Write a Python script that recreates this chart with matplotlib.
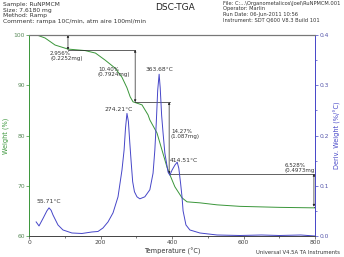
import matplotlib
matplotlib.use("Agg")
import matplotlib.pyplot as plt
import numpy as np

# ---- data ----
w_temp = [22, 45, 73, 109, 157, 186, 213, 241, 260, 274, 283, 291, 316, 333, 338,
          358, 372, 386, 394, 408, 428, 442, 478, 526, 590, 700, 800]
weight = [100, 99.4, 98.0, 97.2, 96.9, 96.4, 95.0, 93.4, 91.6, 89.5, 87.7, 86.7, 86.1,
          84.1, 83.1, 80.5, 77.1, 73.7, 72.2, 69.8, 67.6, 66.8, 66.6, 66.2, 65.9, 65.7, 65.6]

d_temp = [20, 28, 40, 50, 56, 62, 67, 81, 95, 120, 148, 176, 193, 207, 221, 235, 249, 260,
          266, 270, 274, 278, 282, 286, 290, 295, 302, 310, 324, 338, 347, 352, 356, 360,
          364, 367, 371, 375, 380, 389, 394, 400, 408, 414.5, 419, 424, 428, 431, 439,
          450, 478, 526, 590, 650, 700, 760, 800]
deriv = [0.028, 0.020, 0.036, 0.050, 0.056, 0.051, 0.042, 0.022, 0.012, 0.006, 0.005,
         0.008, 0.009, 0.016, 0.028, 0.046, 0.078, 0.131, 0.171, 0.215, 0.244, 0.228,
         0.185, 0.145, 0.108, 0.088, 0.078, 0.074, 0.078, 0.092, 0.125, 0.171, 0.225,
         0.29, 0.322, 0.295, 0.24, 0.205, 0.165, 0.127, 0.121, 0.131, 0.141, 0.147, 0.135,
         0.105, 0.078, 0.050, 0.022, 0.012, 0.006, 0.002, 0.001, 0.002, 0.001, 0.002, 0.0]

# steps: (temperature of arrow, start weight, end weight, end of horizontal line, label)
step_t = [109, 297, 392, 797]
step_w0 = [100.0, 97.04, 86.64, 72.37]
step_w1 = [97.04, 86.64, 72.37, 65.84]
step_lines_end = [297, 395, 800, 800]
step_labels = ["2.956%\n(0.2252mg)", "10.40%\n(0.7924mg)", "14.27%\n(1.087mg)", "6.528%\n(0.4973mg)"]
step_label_pos = [(59, 96.8), (193, 93.6), (397, 81.3), (716, 74.6)]

peak_labels = ["55.71°C", "274.21°C", "363.68°C", "414.51°C"]
peak_label_pos = [(56, 0.064), (252, 0.246), (366, 0.326), (433, 0.146)]

GREEN = "#3a963a"
BLUE = "#4646c8"
TXT = "#333333"
FS = 4.3

fig = plt.figure(figsize=(3.44, 2.57), dpi=100)
ax = fig.add_axes([29/344, 1-236/257, 286/344, 201/257])
ax2 = ax.twinx()

ax.plot(w_temp, weight, color=GREEN, lw=0.7)
ax2.plot(d_temp, deriv, color=BLUE, lw=0.7)

ax.set_xlim(0, 800)
ax.set_ylim(60, 100)
ax2.set_ylim(0, 0.4)

# step annotations
for t, w0, w1, xe in zip(step_t, step_w0, step_w1, step_lines_end):
    ax.annotate("", xy=(t, w1), xytext=(t, w0),
                arrowprops=dict(arrowstyle="<|-|>", color="#222222", lw=0.5,
                                mutation_scale=3, shrinkA=0, shrinkB=0))
    ax.plot([t, xe], [w1, w1], color="#222222", lw=0.5)
for (tx, ty), s in zip(step_label_pos, step_labels):
    ax.text(tx, ty, s, fontsize=FS - 0.3, color=TXT, ha="left", va="top", linespacing=1.0)

for (tx, ty), s in zip(peak_label_pos, peak_labels):
    ax2.text(tx, ty, s, fontsize=FS, color=TXT, ha="center", va="bottom")

# axes styling
ax.set_xticks([0, 200, 400, 600, 800])
ax.set_xticks([100, 300, 500, 700], minor=True)
ax.set_yticks([60, 70, 80, 90, 100])
ax2.set_yticks([0.0, 0.1, 0.2, 0.3, 0.4])
ax2.set_yticks([0.05, 0.15, 0.25, 0.35], minor=True)
ax2.set_yticklabels(["0.0", "0.1", "0.2", "0.3", "0.4"])

ax.tick_params(axis="x", labelsize=FS, colors="#444444", length=2, width=0.5, pad=1)
ax.tick_params(axis="x", which="minor", length=1.5, width=0.5, colors="#444444")
ax.tick_params(axis="y", labelsize=FS, colors=GREEN, length=2, width=0.5, pad=1)
ax.tick_params(axis="y", labelcolor="#5a8a5a")
ax2.tick_params(axis="y", labelsize=FS, colors=BLUE, length=2, width=0.5, pad=1)
ax2.tick_params(axis="y", which="minor", length=1.5, width=0.5, colors=BLUE)
ax2.tick_params(axis="y", labelcolor="#5555aa")

for a in (ax, ax2):
    a.spines["top"].set_color("#777777")
    a.spines["top"].set_linewidth(0.8)
    a.spines["bottom"].set_color("#444444")
    a.spines["bottom"].set_linewidth(0.6)
    a.spines["left"].set_color(GREEN)
    a.spines["left"].set_linewidth(0.6)
    a.spines["right"].set_color(BLUE)
    a.spines["right"].set_linewidth(0.6)

ax.set_xlabel("Temperature (°C)", fontsize=FS + 0.4, color="#333333", labelpad=2)
ax.set_ylabel("Weight (%)", fontsize=FS + 0.4, color=GREEN, labelpad=3)
ax2.set_ylabel("Deriv. Weight (%/°C)", fontsize=FS + 0.4, color=BLUE, labelpad=4)

# header texts
fig.text(3/344, 1-2/257, "Sample: RuNPMCM\nSize: 7.6180 mg\nMethod: Ramp\nComment: rampa 10C/min, atm aire 100ml/min",
         fontsize=FS, color=TXT, ha="left", va="top", linespacing=1.15)
fig.text(175/344, 1-8/257, "DSC-TGA", fontsize=6.5, color="#222222", ha="center", va="center")
fig.text(223/344, 1-0.5/257, "File: C:...\\Organometalicos\\Joel\\RuNPMCM.001\nOperator: Marlin\nRun Date: 06-Jun-2011 10:56\nInstrument: SDT Q600 V8.3 Build 101",
         fontsize=3.7, color=TXT, ha="left", va="top", linespacing=1.2)
fig.text(340/344, 1-253/257, "Universal V4.5A TA Instruments", fontsize=FS - 0.5, color=TXT,
         ha="right", va="center")

fig.savefig("out.png", dpi=100)
